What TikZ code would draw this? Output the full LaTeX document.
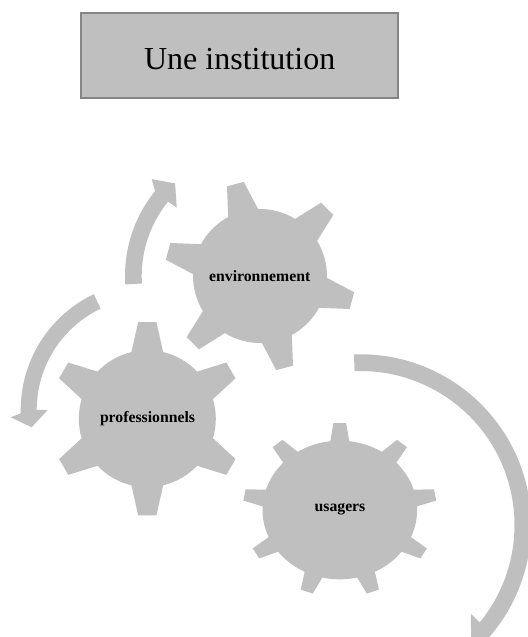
\documentclass[tikz,border=0pt]{standalone}
\usepackage{fontspec}
\setmainfont{Liberation Serif}
\definecolor{gearGray}{HTML}{BFBFBF}
\definecolor{boxEdge}{HTML}{858585}
\tikzset{
  shapefill/.style={fill=gearGray,draw=none},
  gearlabel/.style={font=\fontsize{11.8}{14}\selectfont\bfseries,text=black,inner sep=0pt},
  titlebox/.style={draw=boxEdge,line width=1.6pt,fill=gearGray,minimum width=238pt,minimum height=64pt,
    inner sep=0pt,text height=20pt,text depth=0pt,font=\fontsize{24}{28}\selectfont,text=black}
}
% #1,#2 centre  #3 first tooth angle  #4 root radius  #5 tip radius  #6 root half angle  #7 tip half angle  #8 teeth  #9 yscale
\newcommand\cogwheel[9]{%
  \begin{scope}[shift={(#1,#2)},yscale=#9]
    \pgfmathsetmacro\cogstep{360/#8}
    \fill[shapefill] ({#3-#6}:#4)
      \foreach \k in {1,...,#8}{
        \pgfextra{\pgfmathsetmacro\coga{#3+(\k-1)*\cogstep}}
        -- ({\coga-#7}:#5) -- ({\coga+#7}:#5) -- ({\coga+#6}:#4)
        arc[start angle={\coga+#6},end angle={\coga+\cogstep-#6},radius=#4]
      } -- cycle;
  \end{scope}}
\begin{document}
\begin{tikzpicture}[x=0.75pt,y=0.75pt]
\useasboundingbox (0,0) rectangle (528,637);
\clip (0,0) rectangle (528,637);
\fill[white] (0,0) rectangle (528,637);

\node[titlebox] (title) at (239.7,581.3) {Une institution};

\cogwheel{260}{361}{105}{67}{95.5}{13.4}{5.2}{6}{1}
\cogwheel{147.3}{218.3}{90}{68.5}{97}{13.4}{5.4}{6}{1}
\cogwheel{339.8}{127}{90}{77.3}{97}{7}{3.8}{9}{0.897}

\node[gearlabel] (env) at (259.7,361) {environnement};
\node[gearlabel] (pro) at (147.5,218.5) {professionnels};
\node[gearlabel] (usa) at (340,127.5) {usagers};

% upper arrow
\begin{scope}[shift={(260,361)}]
  \fill[shapefill] (183.6:135) arc[start angle=183.6,end angle=141,radius=135]
    -- (138.2:145.3) -- (132.5:125.7) -- (140.6:107.7) -- (141:118.3)
    arc[start angle=141,end angle=183.6,radius=118.3] -- cycle;
\end{scope}
% left arrow
\begin{scope}[shift={(149,227)}]
  \fill[shapefill] (115.5:128.3) arc[start angle=115.5,end angle=181.5,radius=128.3]
    -- (183:138.5) -- (188.4:118.7) -- (180:101.3) -- (180:112.3)
    arc[start angle=180,end angle=115.5,radius=112.3] -- cycle;
\end{scope}
% large right arrow
\begin{scope}[shift={(360.5,112)}]
  \fill[shapefill] (92.2:170.7) arc[start angle=92.2,end angle=-41,radius=170.7]
    -- (-42:179) -- (476-360.5,112-543) -- (-38.8:141.5) -- (-39.3:154)
    arc[start angle=-39.3,end angle=92.2,radius=154] -- cycle;
\end{scope}
\end{tikzpicture}
\end{document}
